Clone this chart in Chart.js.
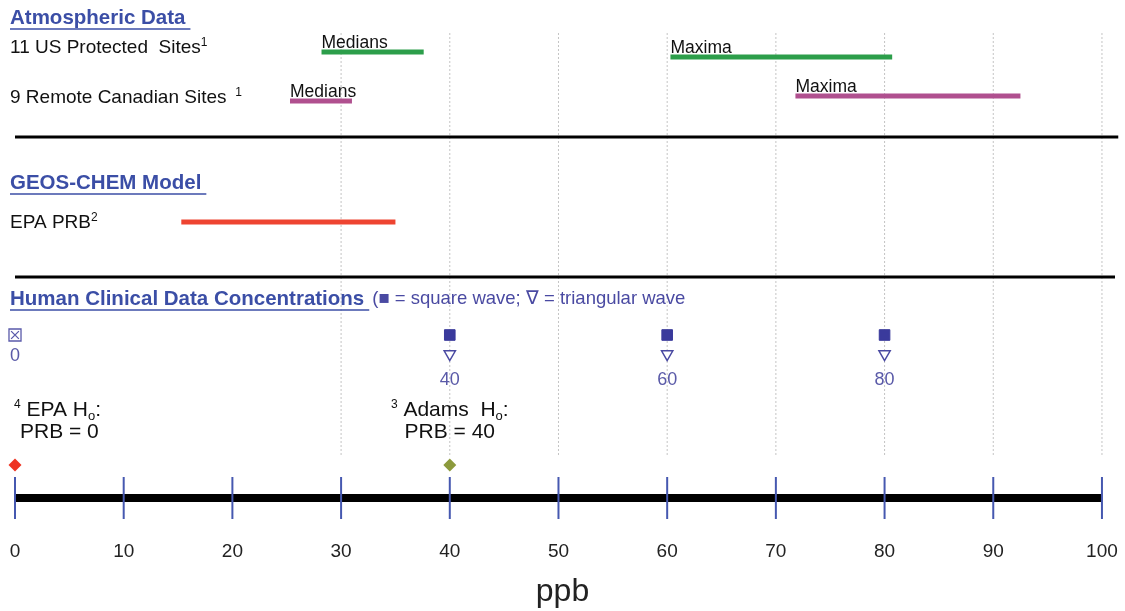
<!DOCTYPE html>
<html lang="en">
<head>
<meta charset="UTF-8">
<title>Ozone PRB ranges</title>
<script src="https://cdn.jsdelivr.net/npm/chart.js@4.4.1/dist/chart.umd.min.js"></script>
<style>
  html, body { margin: 0; padding: 0; background: #fff; }
  #wrap { width: 1125px; height: 611px; }
</style>
</head>
<body>
<div id="wrap"><canvas id="prbChart"></canvas></div>
<script>
// ppb values
var usMedians = [28.2, 37.6];
var usMaxima = [60.3, 80.7];
var canadaMedians = [25.3, 31.0];
var canadaMaxima = [71.8, 92.5];
var epaPrbRange = [15.3, 35.0];
var squareWave = [40, 60, 80];
var triangleWave = [40, 60, 80];
var noOzone = [0];
var clinicalLevels = [0, 40, 60, 80];
var epaHypothesis = [0];
var adamsHypothesis = [40];
var axisRange = [0, 100];
var axisTicks = [0, 10, 20, 30, 40, 50, 60, 70, 80, 90, 100];
var gridValues = [30, 40, 50, 60, 70, 80, 90, 100];
var separatorRange = [0, 101.5];

// vertical lanes (hidden y axis runs 0..528 top to bottom)
var lane = {
  usMed: 52, usMax: 57, canMed: 101, canMax: 96,
  sep1: 137, epa: 222, sep2: 277,
  square: 335, tri: 354, diamond: 465, axis: 498,
  gridTop: 33, gridBottom: 455
};

var FONT = '"Liberation Sans", Arial, Helvetica, sans-serif';
var BLUE = '#3b4ea6';
var CLIN = '#4a4aa2';

function rangeLine(range, y, color, width) {
  return {
    data: range.map(function(v) { return { x: v, y: y }; }),
    showLine: true,
    borderColor: color,
    borderWidth: width,
    borderCapStyle: 'butt',
    pointRadius: 0,
  };
}

function markers(values, y, style) {
  return Object.assign({
    data: values.map(function(v) { return { x: v, y: y }; }),
    showLine: false,
  }, style);
}

var datasets = [
  rangeLine(usMedians, lane.usMed, '#2c9e4a', 5),
  rangeLine(usMaxima, lane.usMax, '#2c9e4a', 5),
  rangeLine(canadaMedians, lane.canMed, '#b0508f', 5),
  rangeLine(canadaMaxima, lane.canMax, '#b0508f', 5),
  rangeLine(epaPrbRange, lane.epa, '#ee4431', 5),
  rangeLine(separatorRange, lane.sep1, '#000', 3),
  rangeLine([separatorRange[0], 101.2], lane.sep2, '#000', 3),
  markers(squareWave, lane.square, {
    pointStyle: 'rect', pointRadius: 7.5, pointBackgroundColor: '#3a3a9c', pointBorderColor: '#3a3a9c', pointBorderWidth: 1
  }),
  markers(triangleWave, lane.tri, {
    pointStyle: 'triangle', pointRotation: 180, pointRadius: 6.5, pointBackgroundColor: '#fff', pointBorderColor: CLIN, pointBorderWidth: 1.5
  }),
  markers(noOzone, lane.square, {
    pointStyle: 'crossRot', pointRadius: 5.5, pointBorderColor: '#5a5aaa', pointBorderWidth: 1.3
  }),
  markers(noOzone, lane.square, {
    pointStyle: 'rect', pointRadius: 8.5, pointBackgroundColor: 'rgba(0,0,0,0)', pointBorderColor: '#5a5aaa', pointBorderWidth: 1.3
  }),
  markers(epaHypothesis, lane.diamond, {
    pointStyle: 'rectRot', pointRadius: 6.5, pointBackgroundColor: '#ee3322', pointBorderColor: '#ee3322', pointBorderWidth: 0
  }),
  markers(adamsHypothesis, lane.diamond, {
    pointStyle: 'rectRot', pointRadius: 6.5, pointBackgroundColor: '#8c9a3c', pointBorderColor: '#8c9a3c', pointBorderWidth: 0
  }),
  markers(axisTicks, lane.axis, {
    pointStyle: 'line', pointRotation: 90, pointRadius: 21, pointBorderColor: '#4658b0', pointBorderWidth: 2
  }),
  rangeLine(axisRange, lane.axis, '#000', 8),
];
gridValues.forEach(function(v) {
  var g = rangeLine([v, v], 0, '#c4c4c4', 1);
  g.data = [{ x: v, y: lane.gridTop }, { x: v, y: lane.gridBottom }];
  g.borderDash = [2, 2];
  datasets.push(g);
});

// draws a run of text pieces (normal, superscript, subscript) left to right
function richText(ctx, x, y, parts, align) {
  var widths = parts.map(function(p) {
    ctx.font = (p.bold ? 'bold ' : '') + p.size + 'px ' + FONT;
    return ctx.measureText(p.t).width;
  });
  var total = widths.reduce(function(a, b) { return a + b; }, 0);
  var cx = align === 'center' ? x - total / 2 : x;
  var start = cx;
  parts.forEach(function(p, i) {
    ctx.font = (p.bold ? 'bold ' : '') + p.size + 'px ' + FONT;
    ctx.fillStyle = p.color || '#111';
    ctx.fillText(p.t, cx, y + (p.dy || 0));
    cx += widths[i];
  });
  return { left: start, right: cx };
}

function heading(ctx, x, y, text, extra) {
  var r = richText(ctx, x, y, [{ t: text, size: 20.5, bold: true, color: BLUE }]);
  ctx.strokeStyle = BLUE;
  ctx.lineWidth = 1.5;
  ctx.beginPath();
  ctx.moveTo(r.left, y + 11);
  ctx.lineTo(r.right + extra, y + 11);
  ctx.stroke();
  return r;
}

var textPlugin = {
  id: 'schemaText',
  afterDatasetsDraw: function(chart) {
    var ctx = chart.ctx;
    var xs = chart.scales.x, ys = chart.scales.y;
    var left = 10;
    ctx.save();
    ctx.textBaseline = 'middle';
    ctx.textAlign = 'left';

    heading(ctx, left, 18, 'Atmospheric Data', 5);
    richText(ctx, left, 48, [{ t: '11 US Protected  Sites', size: 19 }, { t: '1', size: 12, dy: -5 }]);
    richText(ctx, left, 98, [{ t: '9 Remote Canadian Sites ', size: 19 }, { t: ' 1', size: 12, dy: -5 }]);

    ctx.textBaseline = 'alphabetic';
    var tags = [[usMedians[0], lane.usMed, 'Medians'], [usMaxima[0], lane.usMax, 'Maxima'],
                [canadaMedians[0], lane.canMed, 'Medians'], [canadaMaxima[0], lane.canMax, 'Maxima']];
    tags.forEach(function(t) {
      richText(ctx, xs.getPixelForValue(t[0]), ys.getPixelForValue(t[1]) - 4, [{ t: t[2], size: 17.5 }]);
    });
    ctx.textBaseline = 'middle';

    heading(ctx, left, 183, 'GEOS-CHEM Model', 5);
    richText(ctx, left, 223, [{ t: 'EPA PRB', size: 19 }, { t: '2', size: 12, dy: -5 }]);

    var h = heading(ctx, left, 299, 'Human Clinical Data Concentrations', 5);
    richText(ctx, h.right + 8, 299, [{ t: '(\u25A0 = square wave; \u2207 = triangular wave', size: 18.5, color: CLIN }]);

    clinicalLevels.forEach(function(v) {
      var y = v === 0 ? 356 : 380;
      richText(ctx, xs.getPixelForValue(v), y, [{ t: String(v), size: 18, color: '#5a5aa8' }], 'center');
    });

    var epaX = xs.getPixelForValue(epaHypothesis[0]);
    richText(ctx, epaX - 1, 410, [{ t: '4', size: 12, dy: -5 }, { t: ' EPA H', size: 21 }, { t: 'o', size: 13, dy: 6 }, { t: ':', size: 21 }]);
    richText(ctx, epaX + 5, 432, [{ t: 'PRB = 0', size: 21 }]);
    var adX = xs.getPixelForValue(adamsHypothesis[0]);
    richText(ctx, adX, 410, [{ t: '3', size: 12, dy: -5 }, { t: ' Adams  H', size: 21 }, { t: 'o', size: 13, dy: 6 }, { t: ':', size: 21 }], 'center');
    richText(ctx, adX, 432, [{ t: 'PRB = 40', size: 21 }], 'center');
    ctx.restore();
  }
};

var config = {
  type: 'scatter',
  data: { datasets: datasets },
  options: {
    responsive: true,
    maintainAspectRatio: false,
    animation: false,
    events: [],
    layout: { padding: 0, autoPadding: false },
    plugins: { legend: { display: false }, tooltip: { enabled: false } },
    scales: {
      x: {
        type: 'linear',
        min: -1.38,
        max: 102.12,
        grid: { display: false, drawTicks: false },
        border: { display: false },
        ticks: {
          stepSize: 10,
          includeBounds: false,
          autoSkip: false,
          maxRotation: 0,
          padding: 12,
          color: '#222',
          font: { family: FONT, size: 19 },
        },
        title: {
          display: true,
          text: 'ppb',
          color: '#222',
          padding: 0,
          font: { family: FONT, size: 32 },
        },
        afterFit: function(scale) {
          scale.height = 83;
          scale.paddingLeft = 0;
          scale.paddingRight = 0;
          scale.paddingTop = 0;
          scale.paddingBottom = 0;
        },
      },
      y: {
        type: 'linear',
        display: false,
        reverse: true,
        min: 0,
        max: 528,
      },
    },
  },
  plugins: [textPlugin],
};

window.onload = function() {
  var ctx = document.getElementById('prbChart').getContext('2d');
  window.myChart = new Chart(ctx, config);
};
</script>
</body>
</html>
